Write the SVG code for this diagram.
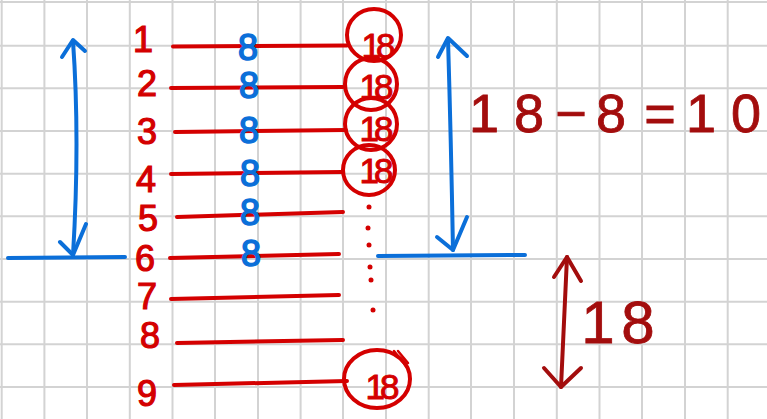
<svg xmlns="http://www.w3.org/2000/svg" width="767" height="419" viewBox="0 0 767 419">
<style>
.grid{stroke:#d3d3d3;stroke-width:2}
.lbl{font-family:"Liberation Sans",Arial,sans-serif;font-size:36px;fill:#d40000;stroke:#d40000;stroke-width:1.2;text-anchor:middle}
.eight{font-family:"Liberation Sans",Arial,sans-serif;font-size:36px;fill:#0b6fd9;stroke:#0b6fd9;stroke-width:1.5;text-anchor:middle}
.in{font-family:"Liberation Sans",Arial,sans-serif;font-size:35px;fill:#d40000;stroke:#d40000;stroke-width:1;text-anchor:middle;letter-spacing:-5px}
.rl{stroke:#d40000;stroke-width:4;fill:none;stroke-linecap:round}
.thin{stroke:#d40000;stroke-width:2.5;fill:none;stroke-linecap:round}
.blue{stroke:#0b6fd9;stroke-width:4;fill:none;stroke-linecap:round;stroke-linejoin:round}
.dred{stroke:#a30d0d;stroke-width:4;fill:none;stroke-linecap:round;stroke-linejoin:round}
.big{font-family:"Liberation Sans",Arial,sans-serif;fill:#a30d0d;stroke:#a30d0d;stroke-width:0.8;text-anchor:middle}
.dot{fill:#d40000}
</style>
<rect width="767" height="419" fill="#ffffff"/>
<g id="grid">
<path class="grid" d="M1.7 0V419M44.4 0V419M87 0V419M129.8 0V419M172.5 0V419M215 0V419M258 0V419M300.6 0V419M343 0V419M386 0V419M428.7 0V419M471 0V419M514 0V419M556.8 0V419M599.5 0V419M642 0V419M685 0V419M727.7 0V419"/>
<path class="grid" d="M0 2H767M0 45.7H767M0 88.3H767M0 131H767M0 173.7H767M0 216.3H767M0 259H767M0 301.7H767M0 344.3H767M0 387H767"/>
</g>
<g id="connectors">
<path class="rl" d="M173 46.5L347 45.5"/>
<path class="rl" d="M171 88L343 87"/>
<path class="rl" d="M175 132L346 130"/>
<path class="rl" d="M171 174L342 172"/>
<path class="rl" d="M177 217L343 212"/>
<path class="rl" d="M170 258L339 254"/>
<path class="rl" d="M171 299L339 295"/>
<path class="rl" d="M177 343L343 340"/>
<path class="rl" d="M174 385L347 381"/>
</g>
<g id="labels">
<text class="lbl" x="143" y="52">1</text>
<text class="lbl" x="147" y="96">2</text>
<text class="lbl" x="147" y="144">3</text>
<text class="lbl" x="146" y="192">4</text>
<text class="lbl" x="148" y="231">5</text>
<text class="lbl" x="145" y="271">6</text>
<text class="lbl" x="147" y="309">7</text>
<text class="lbl" x="150" y="348">8</text>
<text class="lbl" x="147" y="406">9</text>
</g>
<g id="eights">
<text class="eight" x="248" y="60">8</text>
<text class="eight" x="249" y="98">8</text>
<text class="eight" x="249" y="143">8</text>
<text class="eight" x="250" y="186">8</text>
<text class="eight" x="250" y="225">8</text>
<text class="eight" x="251" y="266">8</text>
</g>
<g id="circles">
<g id="c1"><ellipse class="rl" cx="374" cy="35" rx="27" ry="26"/><text class="in" x="376" y="58">18</text></g>
<g id="c2"><ellipse class="rl" cx="371" cy="84" rx="26" ry="26"/><text class="in" x="374" y="99">18</text></g>
<g id="c3"><ellipse class="rl" cx="371" cy="124" rx="26" ry="26"/><text class="in" x="374" y="141">18</text></g>
<g id="c4"><ellipse class="rl" cx="369" cy="170" rx="26" ry="25"/><text class="in" x="374" y="183">18</text></g>
<g id="c9"><ellipse class="rl" cx="377" cy="379" rx="33" ry="29"/><path class="thin" d="M394 351L406 366M398 351L408 363"/><text class="in" x="380" y="399">18</text></g>
</g>
<g id="dots">
<circle class="dot" cx="369" cy="207" r="2.5"/>
<circle class="dot" cx="368" cy="228" r="2.5"/>
<circle class="dot" cx="369" cy="245" r="2.5"/>
<circle class="dot" cx="370" cy="267" r="2.5"/>
<circle class="dot" cx="371" cy="280" r="2.5"/>
<circle class="dot" cx="373" cy="310" r="2.5"/>
</g>
<g id="left-arrow">
<path class="blue" d="M73 41Q80 140 73 255"/>
<path class="blue" d="M62 57L73 40L85 51"/>
<path class="blue" d="M60 242L73 255L86 224"/>
<path class="blue" d="M8 258L125 257"/>
</g>
<g id="right-arrow">
<path class="blue" d="M448 39Q451 140 453 250"/>
<path class="blue" d="M438 57L448 38L467 56"/>
<path class="blue" d="M437 237L453 250L467 217"/>
<path class="blue" d="M378 256L525 255"/>
</g>
<g id="equation">
<text class="big" font-size="54" y="132"><tspan x="484">1</tspan><tspan x="529">8</tspan><tspan x="571">−</tspan><tspan x="611">8</tspan><tspan x="660">=</tspan><tspan x="701">1</tspan><tspan x="746">0</tspan></text>
</g>
<g id="red-arrow">
<path class="dred" d="M567 257L561 387"/>
<path class="dred" d="M554 277L567 257L581 281"/>
<path class="dred" d="M544 368L561 387L581 368"/>
<text class="big" font-size="60" y="343"><tspan x="598">1</tspan><tspan x="638">8</tspan></text>
</g>
</svg>
